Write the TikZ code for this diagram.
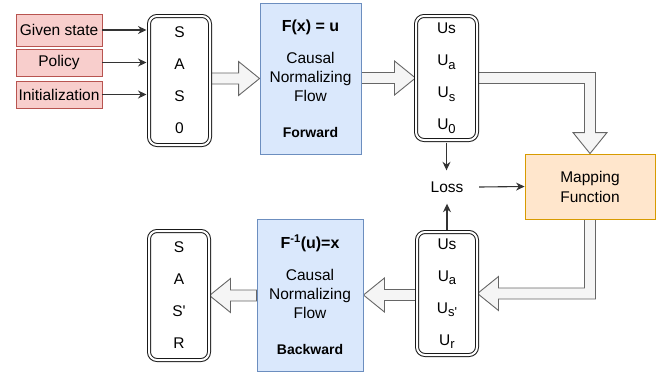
\documentclass[tikz,border=0pt]{standalone}
\usepackage{fontspec}
\setmainfont{Liberation Sans}
\usetikzlibrary{arrows.meta,calc,backgrounds}
\definecolor{redfill}{HTML}{F8CECC}
\definecolor{redline}{HTML}{B85450}
\definecolor{bluefill}{HTML}{DAE8FC}
\definecolor{blueline}{HTML}{6C8EBF}
\definecolor{orangefill}{HTML}{FFE6CC}
\definecolor{orangeline}{HTML}{D79B00}
\definecolor{flexfill}{HTML}{F5F5F5}
\definecolor{flexline}{HTML}{666666}
\newcommand{\subs}[1]{\raisebox{-3.5pt}{\fontsize{13}{13}\selectfont #1}}
% hollow block arrow from #1 to #2, at the height of #2
\newcommand{\hflex}[2]{%
  \path[flex] let \p1=(#1), \p2=(#2), \n1={ifthenelse(\x2>\x1,21,-21)} in
    (\x1,\y2+5.5pt)--({\x2-\n1*1pt},\y2+5.5pt)--({\x2-\n1*1pt},\y2+17pt)--(\x2,\y2)
    --({\x2-\n1*1pt},\y2-17pt)--({\x2-\n1*1pt},\y2-5.5pt)--(\x1,\y2-5.5pt)--cycle;}
\begin{document}
\begin{tikzpicture}[x=1pt,y=-1pt,font=\fontsize{15.5}{19}\selectfont,
    inbox/.style={draw=redline,fill=redfill,line width=0.9pt,minimum width=86,inner sep=0},
    listbox/.style={draw=black!90,double=white,double distance=2pt,line width=1pt,rounded corners=8pt,align=center,inner sep=0,font=\fontsize{15.5}{32}\selectfont},
    flowbox/.style={draw=blueline,fill=bluefill,line width=0.9pt,align=center,inner sep=0},
    link/.style={draw=black!80,line width=1.1pt,-{Stealth[length=8.5pt,width=8pt]}},
    flex/.style={draw=flexline,fill=flexfill,line width=0.9pt,line join=miter}]
    \useasboundingbox (0,0) rectangle (672,376);
    % inputs
    \node[inbox,minimum height=32] (given) at (59,30) {Given state};
    \node[inbox,minimum height=27] (policy) at (59,62.5) {Policy};
    \node[inbox,minimum height=27] (init) at (59,94.5) {Initialization};
    \node[listbox,minimum width=61,minimum height=129] (sas) at (179.5,80.5) {S\\A\\S\\0};
    \foreach \n in {given,policy,init}
        \draw[link,shorten >=2pt] (\n.east)--(\n.east -| sas.west);
    % forward flow
    \node[flowbox,minimum width=101,minimum height=151] (fwd) at (310.5,78.5)
        {{\fontsize{16}{19}\selectfont\textbf{F(x) = u}}\\[13pt]Causal\\Normalizing\\Flow\\[17pt]{\fontsize{14}{19}\selectfont\textbf{Forward}}};
    \node[listbox,minimum width=61,minimum height=124] (us1) at (446.5,78)
        {Us\\U\subs{a}\\U\subs{s}\\U\subs{0}};
    \node[draw=orangeline,fill=orangefill,line width=0.9pt,align=center,minimum width=130,minimum height=65,font=\fontsize{15.5}{20}\selectfont] (map) at (590,186.5) {Mapping\\Function};
    \node[minimum width=64,minimum height=33,inner sep=0] (loss) at (447,187) {Loss};
    % backward flow
    \node[listbox,minimum width=60,minimum height=123] (us2) at (447,293.5)
        {Us\\U\subs{a}\\U\subs{s\textquotesingle}\\U\subs{r}};
    \node[flowbox,minimum width=106,minimum height=152] (bwd) at (310,295)
        {{\fontsize{16}{19}\selectfont\textbf{F\textsuperscript{-1}(u)=x}}\\[13pt]Causal\\Normalizing\\Flow\\[17pt]{\fontsize{14}{19}\selectfont\textbf{Backward}}};
    \node[listbox,minimum width=60,minimum height=129] (sasr) at (179,295.5) {S\\A\\S\textquotesingle\\R};
    \draw[link,shorten <=2pt] (us1.south)--(us1.south |- loss.north);
    \draw[link,shorten <=2pt] (us2.north)--(us2.north |- loss.south);
    \draw[link] (loss.east)--(map.west);
    \begin{scope}[on background layer]
        \hflex{sas.east}{fwd.west}
        \hflex{fwd.east}{us1.west}
        \hflex{us2.west}{bwd.east}
        \hflex{bwd.west}{sasr.east}
        \path[flex] let \p1=(us1.east), \p2=(map.north) in
            (\x1,\y1+5.5pt)--(\x2+5.5pt,\y1+5.5pt)--(\x2+5.5pt,\y2+21pt)--(\x2+17pt,\y2+21pt)--(\x2,\y2)
            --(\x2-17pt,\y2+21pt)--(\x2-5.5pt,\y2+21pt)--(\x2-5.5pt,\y1-5.5pt)--(\x1,\y1-5.5pt)--cycle;
        \path[flex] let \p1=(map.south), \p2=(us2.east) in
            (\x1-5.5pt,\y1)--(\x1+5.5pt,\y1)--(\x1+5.5pt,\y2-5.5pt)--(\x2+21pt,\y2-5.5pt)--(\x2+21pt,\y2-17pt)--(\x2,\y2)
            --(\x2+21pt,\y2+17pt)--(\x2+21pt,\y2+5.5pt)--(\x1-5.5pt,\y2+5.5pt)--cycle;
    \end{scope}
\end{tikzpicture}
\end{document}
